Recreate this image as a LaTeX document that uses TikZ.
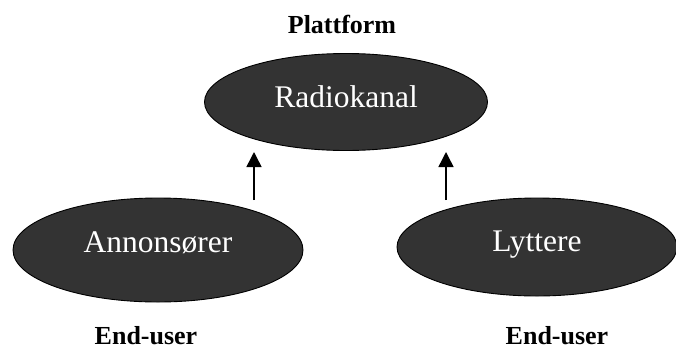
\documentclass[tikz,border=0pt]{standalone}
\usepackage{fontspec}
\setmainfont{Liberation Serif}
\usepackage{xcolor}
\usetikzlibrary{arrows.meta,shapes.geometric}

\definecolor{ovalfill}{HTML}{333333}

\begin{document}
\begin{tikzpicture}[x=1pt, y=-1pt,
    oval/.style={ellipse, draw=black, line width=0.9pt, fill=ovalfill, text=white,
      inner sep=0, font=\fontsize{31.5}{36}\selectfont, text height=21pt},
    tag/.style={font=\fontsize{26}{30}\selectfont\bfseries, anchor=base, inner sep=0},
    uparrow/.style={-{Triangle[width=15pt, length=15pt]}, line width=1.5pt}]
  \useasboundingbox (0,0) rectangle (676,351);
  % platform on top
  \node[tag] (platformtag) at (342,33) {Plattform};
  \node[oval, minimum width=283pt, minimum height=97pt, text depth=11pt] (radio) at (346,102) {Radiokanal};
  % the two end-user sides
  \node[oval, minimum width=290pt, minimum height=104pt, text depth=17pt] (advertisers) at (158,250) {Annonsører};
  \node[oval, minimum width=280pt, minimum height=98pt, text depth=13pt] (listeners) at (537,247) {Lyttere};
  \node[tag] (leftuser) at (146,344) {End-user};
  \node[tag] (rightuser) at (557,344) {End-user};
  % arrows up to the platform
  \coordinate (leftfoot) at (254,200);
  \coordinate (lefttip) at (254,152);
  \coordinate (rightfoot) at (446,200);
  \coordinate (righttip) at (446,152);
  \draw[uparrow] (leftfoot) -- (lefttip);
  \draw[uparrow] (rightfoot) -- (righttip);
\end{tikzpicture}
\end{document}
